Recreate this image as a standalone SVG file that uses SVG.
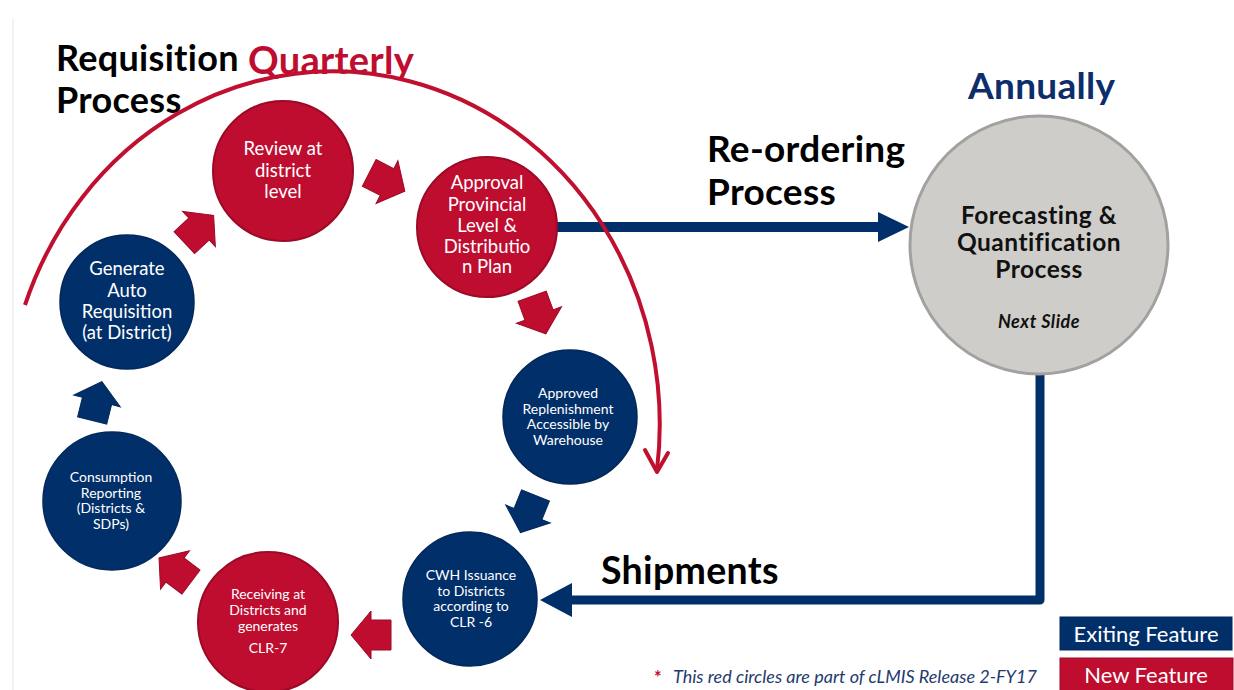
<svg xmlns="http://www.w3.org/2000/svg" xmlns:xlink="http://www.w3.org/1999/xlink" width="1234" height="690" viewBox="0 0 1234 690">
<style>
.red{fill:#bf0d30;stroke:#9b0a26;stroke-width:2}
.blue{fill:#012f6a;stroke:#02285a;stroke-width:1.5}
.wt{fill:#ffffff;font-family:Lato,"Liberation Sans",sans-serif;text-anchor:middle}
.big{font-size:18.5px}
.sm{font-size:14px}
.title{font-family:Lato,"Liberation Sans",sans-serif;font-weight:bold;font-size:36px;letter-spacing:0.3px;fill:#000000}
.fq{font-family:Lato,"Liberation Sans",sans-serif;font-weight:bold;font-size:24.5px;letter-spacing:0.5px;fill:#111111;text-anchor:middle}
.leg{font-family:Lato,"Liberation Sans",sans-serif;font-size:22px;fill:#ffffff;text-anchor:middle}
.ra{fill:#bf0d30;stroke:#9b0a26;stroke-width:1}
.ba{fill:#012f6a;stroke:#02285a;stroke-width:1}
</style>
<defs>
<path id="barrow" d="M -20 -15 L 0 -15 L 0 -24 L 20 0 L 0 24 L 0 15 L -20 15 Z"/>
</defs>
<rect x="0" y="0" width="1234" height="690" fill="#ffffff"/>
<line x1="13" y1="19" x2="13" y2="690" stroke="#ececec" stroke-width="1.5"/>

<g id="titles">
<text class="title" x="56" y="71">Requisition</text>
<text class="title" x="56" y="113">Process</text>
<text class="title" x="248" y="74" style="fill:#bf0d30;font-size:38px">Quarterly</text>
<text class="title" x="707" y="162" style="font-size:37px">Re-ordering</text>
<text class="title" x="707" y="205" style="font-size:37px">Process</text>
<text class="title" x="968" y="99" style="fill:#0d2d6b;font-size:37px">Annually</text>
<text class="title" x="601" y="584" style="font-size:37.5px">Shipments</text>
</g>

<g id="connectors">
<line x1="556" y1="227" x2="882" y2="227" stroke="#012f6a" stroke-width="10"/>
<polygon points="878,212 909,227 878,242" fill="#012f6a"/>
<polyline points="1040,368 1040,600 568,600" fill="none" stroke="#012f6a" stroke-width="9" stroke-linejoin="round"/>
<polygon points="572,583 540,600 572,617" fill="#012f6a"/>
<path d="M 25 305 A 327 353 0 0 1 657 470" fill="none" stroke="#c0102f" stroke-width="4"/>
<polyline points="645,450 657,472 668,453" fill="none" stroke="#c0102f" stroke-width="4" stroke-linecap="round" stroke-linejoin="round"/>
<use xlink:href="#barrow" class="ra" transform="translate(199,229) rotate(-43)"/>
<use xlink:href="#barrow" class="ra" transform="translate(387,182) rotate(27)"/>
<use xlink:href="#barrow" class="ra" transform="translate(539,315) rotate(70)"/>
<use xlink:href="#barrow" class="ba" transform="translate(528,514) rotate(112)"/>
<use xlink:href="#barrow" class="ra" transform="translate(371,635) rotate(180)"/>
<use xlink:href="#barrow" class="ra" transform="translate(175,570) rotate(217)"/>
<use xlink:href="#barrow" class="ba" transform="translate(97,401) rotate(-76)"/>
</g>

<g id="node-generate">
<circle class="blue" cx="127" cy="302" r="67"/>
<text class="wt big" x="127" y="275">Generate</text>
<text class="wt big" x="127" y="297">Auto</text>
<text class="wt big" x="127" y="318">Requisition</text>
<text class="wt big" x="127" y="339">(at District)</text>
</g>

<g id="node-review">
<circle class="red" cx="283" cy="171" r="70"/>
<text class="wt big" x="283" y="155">Review at</text>
<text class="wt big" x="283" y="177">district</text>
<text class="wt big" x="283" y="198">level</text>
</g>

<g id="node-approval">
<circle class="red" cx="487" cy="227" r="70"/>
<text class="wt big" x="487" y="189">Approval</text>
<text class="wt big" x="487" y="211">Provincial</text>
<text class="wt big" x="487" y="232">Level &amp;</text>
<text class="wt big" x="487" y="253">Distributio</text>
<text class="wt big" x="487" y="273">n Plan</text>
</g>

<g id="node-approved">
<circle class="blue" cx="570" cy="417" r="67"/>
<text class="wt sm" x="568" y="398">Approved</text>
<text class="wt sm" x="568" y="413.5">Replenishment</text>
<text class="wt sm" x="568" y="429">Accessible by</text>
<text class="wt sm" x="568" y="444.5">Warehouse</text>
</g>

<g id="node-cwh">
<circle class="blue" cx="470" cy="599" r="67"/>
<text class="wt sm" x="471" y="580">CWH Issuance</text>
<text class="wt sm" x="471" y="595.5">to Districts</text>
<text class="wt sm" x="471" y="611">according to</text>
<text class="wt sm" x="471" y="626.5">CLR -6</text>
</g>

<g id="node-receiving">
<circle class="red" cx="268" cy="622" r="70"/>
<text class="wt sm" x="268" y="599">Receiving at</text>
<text class="wt sm" x="268" y="615">Districts and</text>
<text class="wt sm" x="268" y="631">generates</text>
<text class="wt sm" x="268" y="653">CLR-7</text>
</g>

<g id="node-consumption">
<circle class="blue" cx="112" cy="501" r="69"/>
<text class="wt sm" x="111" y="482">Consumption</text>
<text class="wt sm" x="111" y="497.5">Reporting</text>
<text class="wt sm" x="111" y="513">(Districts &amp;</text>
<text class="wt sm" x="111" y="528.5">SDPs)</text>
</g>

<g id="node-forecasting">
<circle cx="1039" cy="245" r="129" fill="#cfcdca" stroke="#a3a19f" stroke-width="3"/>
<text class="fq" x="1039" y="224">Forecasting &amp;</text>
<text class="fq" x="1039" y="251">Quantification</text>
<text class="fq" x="1039" y="278">Process</text>
<text class="fq" x="1039" y="328" style="font-size:18px;font-style:italic;letter-spacing:0.5px">Next Slide</text>
</g>

<g id="legend">
<rect x="1060" y="617" width="172" height="33" fill="#012f6a" stroke="#02285a" stroke-width="1"/>
<text class="leg" x="1146" y="642">Exiting Feature</text>
<rect x="1060" y="658" width="173" height="34" fill="#bf0d30" stroke="#9b0a26" stroke-width="1"/>
<text class="leg" x="1146" y="683">New Feature</text>
<text x="654" y="684" font-family="Lato,'Liberation Sans',sans-serif" font-size="18" font-weight="bold" fill="#c0102f">*</text>
<text x="673" y="683" font-family="Lato,'Liberation Sans',sans-serif" font-size="18" font-style="italic" fill="#1f3a6e">This red circles are part of cLMIS Release 2-FY17</text>
</g>
</svg>
